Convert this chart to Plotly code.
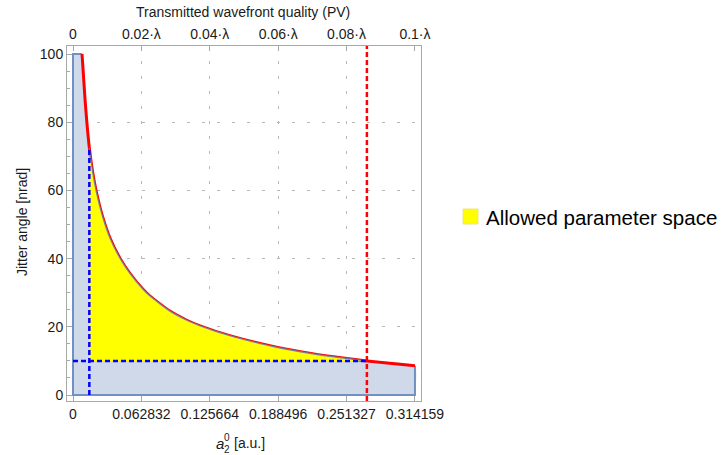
import plotly.graph_objects as go

# ---- data ----
a_curve = [0.0083, 0.0110, 0.0126, 0.0150, 0.0180, 0.0215, 0.0270, 0.0340, 0.0430,
           0.0524, 0.0643, 0.0707, 0.0890, 0.1040, 0.1167, 0.1440, 0.1870, 0.2200,
           0.2480, 0.2700, 0.314159]
jitter_curve = [100, 87, 80.5, 72.5, 65.5, 59.5, 52.5, 46.0, 40.2,
                35.6, 31.0, 29.0, 24.6, 22.0, 20.3, 17.4, 14.0, 12.1,
                10.85, 10.0, 8.6]

a_lower = 0.0150        # blue dashed vertical limit
a_upper = 0.2700        # red dashed vertical limit
jitter_lower = 10       # blue dashed horizontal limit
a_max = 0.314159
jitter_max = 100

x_tickvals = [0, 0.062832, 0.125664, 0.188496, 0.251327, 0.314159]
x_ticktext = ["0", "0.062832", "0.125664", "0.188496", "0.251327", "0.314159"]
top_ticktext = ["0", "0.02·λ", "0.04·λ", "0.06·λ", "0.08·λ", "0.1·λ"]
x_gridvals = [0.062832, 0.125664, 0.188496, 0.251327]
y_tickvals = [0, 20, 40, 60, 80, 100]
y_gridvals = [20, 40, 60, 80]

legend_label = "Allowed parameter space"

# ---- styling ----
FONT = "Liberation Sans, Arial, sans-serif"
FRAME = "#a8a8a8"
GRID = "#b8b8b8"
TXT = "#1a1a1a"
XR = [-0.00551, 0.3197]
YR = [-1.76, 102.35]

fig = go.Figure()

# light blue region under the curve (baseline + spline curve, filled between)
fig.add_trace(go.Scatter(x=[0, a_max], y=[0, 0], mode="lines",
                         line=dict(color="rgba(0,0,0,0)", width=0),
                         showlegend=False, hoverinfo="skip"))
fig.add_trace(go.Scatter(x=[0] + a_curve + [a_max], y=[jitter_max] + jitter_curve + [0],
                         mode="lines", fill="tonexty", fillcolor="#CFD9E9",
                         line=dict(color="rgba(0,0,0,0)", width=0, shape="spline", smoothing=0.5),
                         showlegend=False, hoverinfo="skip"))
# outline of the light blue region
fig.add_trace(go.Scatter(x=[a_max, a_max, 0, 0, a_curve[0]],
                         y=[jitter_curve[-1], 0, 0, jitter_max, jitter_max],
                         mode="lines", line=dict(color="#6F92C2", width=2),
                         showlegend=False, hoverinfo="skip"))

# red curve
fig.add_trace(go.Scatter(x=a_curve, y=jitter_curve, mode="lines",
                         line=dict(color="#FF0000", width=3, shape="spline", smoothing=0.5),
                         showlegend=False, hoverinfo="skip"))

# yellow allowed region: between y = jitter_lower and the curve
ya = [a for a in a_curve if a_lower <= a <= a_upper]
yj = [j for a, j in zip(a_curve, jitter_curve) if a_lower <= a <= a_upper]
fig.add_trace(go.Scatter(x=[a_lower, a_upper], y=[jitter_lower, jitter_lower], mode="lines",
                         line=dict(color="rgba(0,0,0,0)", width=0),
                         showlegend=False, hoverinfo="skip"))
fig.add_trace(go.Scatter(x=ya, y=yj, mode="lines", fill="tonexty", fillcolor="#FFFF00",
                         line=dict(color="rgba(110,120,170,0.85)", width=1.3, shape="spline", smoothing=0.5),
                         showlegend=False, hoverinfo="skip"))

# dashed limit lines
fig.add_trace(go.Scatter(x=[a_lower, a_lower], y=[0, yj[0]], mode="lines",
                         line=dict(color="#0000FF", width=2.5, dash="5px,3px"),
                         showlegend=False, hoverinfo="skip"))
fig.add_trace(go.Scatter(x=[0, a_upper], y=[jitter_lower, jitter_lower], mode="lines",
                         line=dict(color="#0000FF", width=2.5, dash="5px,3px"),
                         showlegend=False, hoverinfo="skip"))
fig.add_trace(go.Scatter(x=[a_upper, a_upper], y=YR, mode="lines",
                         line=dict(color="#FF0000", width=2.5, dash="5px,3px"),
                         showlegend=False, hoverinfo="skip"))

tickfont = dict(family=FONT, size=14, color=TXT)

fig.update_layout(
    width=722, height=455,
    margin=dict(l=67, r=301, t=46, b=54),
    paper_bgcolor="white", plot_bgcolor="white",
    font=dict(family=FONT, size=14, color=TXT),
    xaxis=dict(range=XR, tickmode="array", tickvals=x_tickvals, ticktext=x_ticktext,
               ticks="inside", ticklen=5, tickcolor=FRAME, tickfont=tickfont,
               showline=True, linecolor=FRAME, linewidth=1, mirror=False,
               showgrid=False, zeroline=False),
    xaxis2=dict(range=XR, overlaying="x", side="top", anchor="y",
                tickmode="array", tickvals=x_tickvals, ticktext=top_ticktext,
                ticks="inside", ticklen=5, tickcolor=FRAME, tickfont=tickfont,
                showline=True, linecolor=FRAME, linewidth=1,
                showgrid=False, zeroline=False),
    xaxis3=dict(range=XR, overlaying="x", side="bottom", anchor="y",
                tickmode="array", tickvals=x_gridvals, showticklabels=False, ticks="",
                showline=False, showgrid=True, gridcolor=GRID, gridwidth=1,
                griddash="3px,12px", zeroline=False),
    yaxis=dict(range=YR, tickmode="array", tickvals=y_tickvals,
               ticks="inside", ticklen=5, tickcolor=FRAME, tickfont=tickfont,
               minor=dict(dtick=5, tick0=0, ticks="inside", ticklen=3, tickcolor=FRAME, showgrid=False),
               showline=True, linecolor=FRAME, linewidth=1, mirror=True,
               showgrid=False, zeroline=False),
    yaxis2=dict(range=YR, overlaying="y", side="left", anchor="x",
                tickmode="array", tickvals=y_gridvals, showticklabels=False, ticks="",
                showline=False, showgrid=True, gridcolor=GRID, gridwidth=1,
                griddash="3px,12px", zeroline=False),
)

# dummy traces to activate overlay axes
fig.add_trace(go.Scatter(x=[None], y=[None], xaxis="x2", yaxis="y", showlegend=False))
fig.add_trace(go.Scatter(x=[None], y=[None], xaxis="x3", yaxis="y2", showlegend=False))

def px_x(p):
    return (p - 67) / 354.0

def px_y(p):
    return (401 - p) / 355.0

ann = []
ann.append(dict(text="Transmitted wavefront quality (PV)", x=px_x(243), y=px_y(12),
                xref="paper", yref="paper", showarrow=False, xanchor="center", yanchor="middle",
                font=dict(family=FONT, size=14, color=TXT)))
ann.append(dict(text="Jitter angle [nrad]", x=px_x(22), y=px_y(222), textangle=-90,
                xref="paper", yref="paper", showarrow=False, xanchor="center", yanchor="middle",
                font=dict(family=FONT, size=14, color=TXT)))
ann.append(dict(text="<i>a</i>", x=px_x(220), y=px_y(443),
                xref="paper", yref="paper", showarrow=False, xanchor="center", yanchor="middle",
                font=dict(family=FONT, size=15, color=TXT)))
ann.append(dict(text="0", x=px_x(226.5), y=px_y(437),
                xref="paper", yref="paper", showarrow=False, xanchor="center", yanchor="middle",
                font=dict(family=FONT, size=10, color=TXT)))
ann.append(dict(text="2", x=px_x(226.5), y=px_y(449),
                xref="paper", yref="paper", showarrow=False, xanchor="center", yanchor="middle",
                font=dict(family=FONT, size=10, color=TXT)))
ann.append(dict(text="[a.u.]", x=px_x(232), y=px_y(443),
                xref="paper", yref="paper", showarrow=False, xanchor="left", yanchor="middle",
                font=dict(family=FONT, size=14, color=TXT)))
ann.append(dict(text=legend_label, x=px_x(484), y=px_y(217),
                xref="paper", yref="paper", showarrow=False, xanchor="left", yanchor="middle",
                font=dict(family=FONT, size=20.5, color="#000000")))
fig.update_layout(annotations=ann)

fig.add_shape(type="rect", xref="paper", yref="paper",
              x0=px_x(463), x1=px_x(478), y0=px_y(224), y1=px_y(209),
              fillcolor="#FFFF00", line=dict(color="#E6E68A", width=1))

fig.write_html("out.html")
